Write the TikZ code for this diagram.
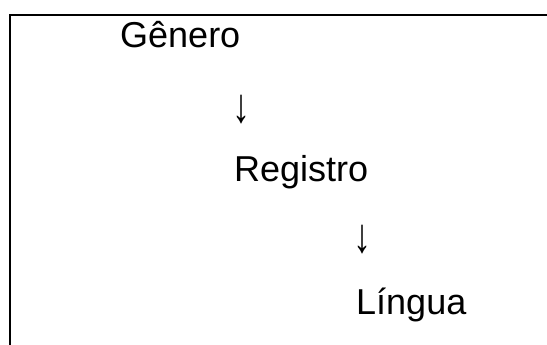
\documentclass[tikz,border=0pt]{standalone}
\usepackage{fontspec}
\setmainfont{Liberation Sans}
\begin{document}
\begin{tikzpicture}[x=1pt,y=-1pt,
  lbl/.style={anchor=base west,inner sep=0pt,font=\fontsize{36}{42}\selectfont},
  arr/.style={anchor=base,inner sep=0pt,font=\fontsize{36}{42}\selectfont},
  frame/.style={line width=2pt,line cap=rect}]
\useasboundingbox (0,0) rectangle (547,345);
\coordinate (bl) at (10,346);
\coordinate (tl) at (10,15);
\coordinate (tr) at (548,15);
\draw[frame] (bl) -- (tl) -- (tr);
\node[lbl] (g) at (120,48) {Gênero};
\node[arr] (a1) at (241,123) {\scalebox{1}[1.35]{↓}};
\node[lbl] (r) at (234,182) {Registro};
\node[arr] (a2) at (362,252) {\scalebox{1}[1.35]{↓}};
\node[lbl] (l) at (356,314) {Língua};
\end{tikzpicture}
\end{document}
